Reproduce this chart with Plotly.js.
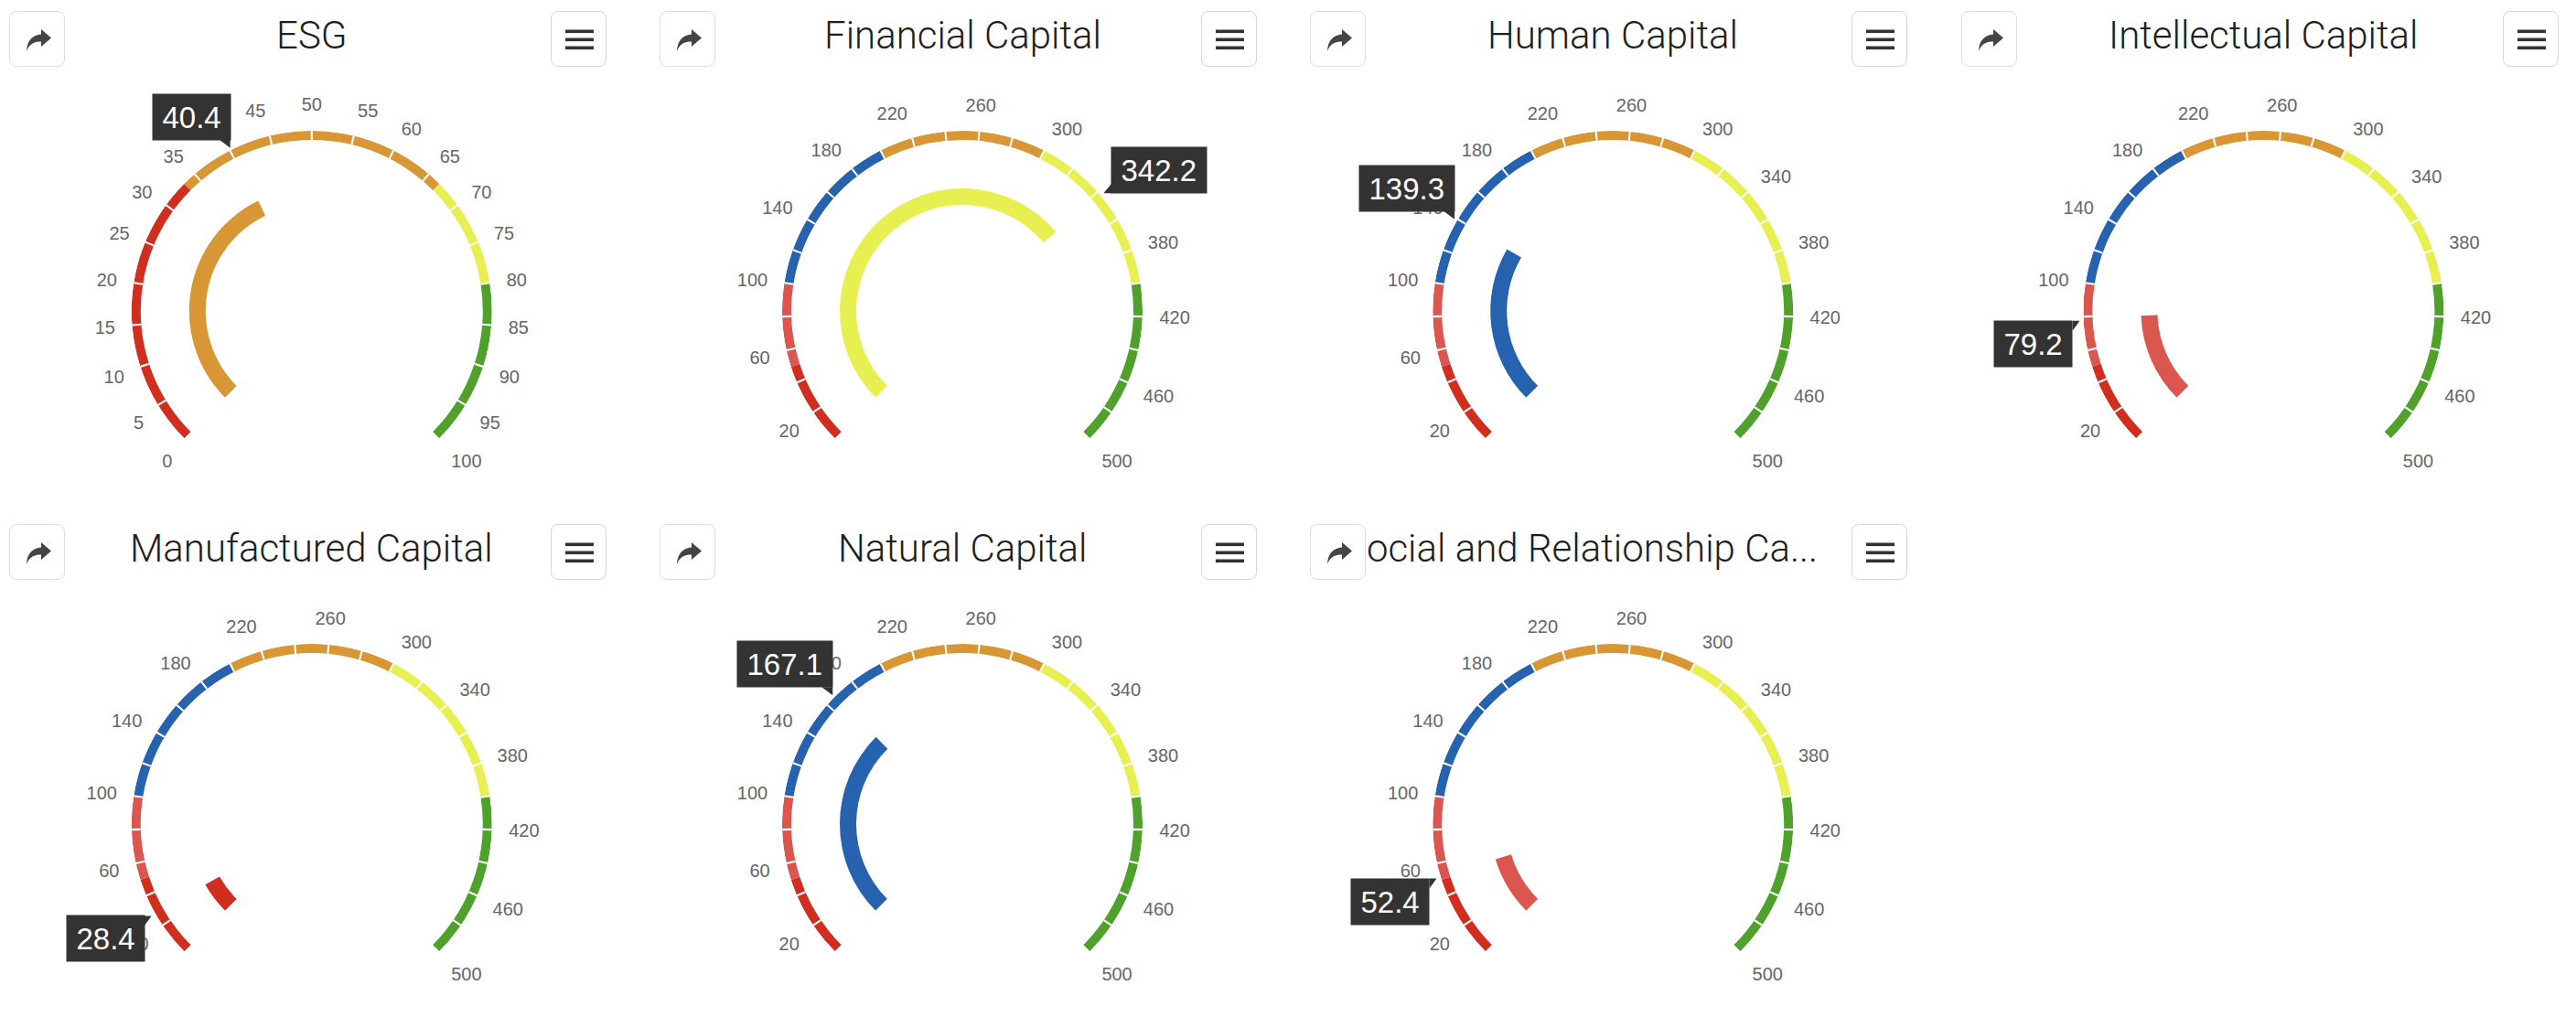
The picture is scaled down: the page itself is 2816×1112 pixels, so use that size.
<!DOCTYPE html>
<html>
<head>
<meta charset="utf-8">
<script src="https://cdn.plot.ly/plotly-3.0.1.min.js"></script>
<style>
html,body{margin:0;padding:0;background:#ffffff;}
#wrap{position:relative;width:2816px;height:1112px;overflow:hidden;}
#chart{position:absolute;left:0;top:0;width:2816px;height:1112px;}
.btn{position:absolute;width:61px;height:61px;border:1.5px solid #dedede;border-radius:8px;background:#ffffff;box-sizing:border-box;}
.btn svg{position:absolute;left:0;top:0;}
</style>
</head>
<body>
<div id="wrap"><div id="chart"></div></div>
<script>
// ---------------- data ----------------
const titles = ["ESG", "Financial Capital", "Human Capital", "Intellectual Capital",
                "Manufactured Capital", "Natural Capital", "Social and Relationship Ca..."];
const values = [40.4, 342.2, 139.3, 79.2, 28.4, 167.1, 52.4];

const esgMin = 0, esgMax = 100;
const esgTickLabels = [0,5,10,15,20,25,30,35,40,45,50,55,60,65,70,75,80,85,90,95,100];
const esgSeparators = [5,10,15,20,25,30,35,40,45,50,55,60,65,70,75,80,85,90,95];
const esgBandEdges = [0, 33.3, 66.7, 80, 100];
const esgBandColors = ["#d22e20", "#d99634", "#e8f051", "#50a12c"];

const capMin = 0, capMax = 500;
const capTickLabels = [20,60,100,140,180,220,260,300,340,380,420,460,500];
const capSeparators = [20,40,60,80,100,120,140,160,180,200,220,240,260,280,300,320,340,360,380,400,420,440,460,480];
const capBandEdges = [0, 50, 100, 200, 300, 400, 500];
const capBandColors = ["#d22e20", "#dc5650", "#2662ae", "#d99634", "#e8f051", "#50a12c"];

// ---------------- layout constants ----------------
const W = 2816, H = 1112;
const R = 197, bandThick = 10, barInner = 116, barOuter = 134;
const cx0 = 340.8, cy0 = 340, colStep = 711.2, rowStep = 561;
const SWEEP = 270;
const sepDeg = 0.62;

function px2fx(x){ return x / W; }
function px2fy(y){ return (H - y) / H; }

const traces = [];
const layout = {
  width: W, height: H, autosize: false,
  margin: {l:0, r:0, t:0, b:0},
  paper_bgcolor: "#ffffff",
  showlegend: false,
  hovermode: false,
  dragmode: false,
  annotations: [],
  shapes: []
};

titles.forEach((title, i) => {
  const isEsg = i === 0;
  const mn = isEsg ? esgMin : capMin;
  const mx = isEsg ? esgMax : capMax;
  const ticks = isEsg ? esgTickLabels : capTickLabels;
  const seps = isEsg ? esgSeparators : capSeparators;
  const edges = isEsg ? esgBandEdges : capBandEdges;
  const colors = isEsg ? esgBandColors : capBandColors;
  const val = values[i];
  // value -> angular-axis theta (the clockwise axis rotated to 225° spans theta -360..-90)
  const deg = v => (v - mn) / (mx - mn) * SWEEP - 360;
  const span = (a, b) => (b - a) / (mx - mn) * SWEEP;

  const col = i % 4, row = Math.floor(i / 4);
  const cx = cx0 + col * colStep, cy = cy0 + row * rowStep;
  const sp = i === 0 ? "polar" : "polar" + (i + 1);

  // bands
  const bt = [], bw = [], bc = [];
  for (let k = 0; k < colors.length; k++) {
    bt.push((deg(edges[k]) + deg(edges[k+1])) / 2);
    bw.push(span(edges[k], edges[k+1]));
    bc.push(colors[k]);
  }
  traces.push({type:"barpolar", subplot: sp, theta: bt, width: bw,
    r: bt.map(() => bandThick / R), base: bt.map(() => (R - bandThick) / R),
    marker: {color: bc, line: {width: 0}}, hoverinfo: "skip"});
  // tick separators (white gaps)
  traces.push({type:"barpolar", subplot: sp, theta: seps.map(deg), width: seps.map(() => sepDeg),
    r: seps.map(() => bandThick / R), base: seps.map(() => (R - bandThick) / R),
    marker: {color: "#ffffff", line: {width: 0}}, hoverinfo: "skip"});
  // value bar
  let vcol = colors[colors.length - 1];
  for (let k = 0; k < colors.length; k++) { if (val >= edges[k] && val < edges[k+1]) { vcol = colors[k]; break; } }
  traces.push({type:"barpolar", subplot: sp, theta: [(deg(mn) + deg(val)) / 2], width: [span(mn, val)],
    r: [(barOuter - barInner) / R], base: [barInner / R],
    marker: {color: [vcol], line: {width: 0}}, hoverinfo: "skip"});

  layout[sp] = {
    domain: {x: [px2fx(cx - R), px2fx(cx + R)], y: [px2fy(cy + R * Math.SQRT1_2), px2fy(cy - R)]},
    sector: [-45, 225],
    bgcolor: "rgba(0,0,0,0)",
    barmode: "overlay",
    radialaxis: {visible: false, range: [0, 1]},
    angularaxis: {
      type: "linear", rotation: 225, direction: "clockwise",
      tickmode: "array", tickvals: ticks.map(deg), ticktext: ticks.map(String),
      ticks: "outside", ticklen: 14, tickcolor: "rgba(0,0,0,0)",
      showline: false, showgrid: false,
      tickfont: {size: 20, color: "#666666", family: "Liberation Sans, Arial, sans-serif"}
    }
  };

  // title
  const trunc = title.endsWith("...");
  layout.annotations.push({
    xref: "paper", yref: "paper",
    x: px2fx(trunc ? cx + 226 : cx), y: px2fy(38 + row * rowStep),
    xanchor: trunc ? "right" : "center", yanchor: "middle",
    text: title, showarrow: false,
    font: {family: "Roboto", size: 42, color: "#1e1e1e", weight: 300}
  });

  // tooltip
  const a = (-135 + span(mn, val)) * Math.PI / 180;
  const P = {x: cx + R * Math.sin(a), y: cy - R * Math.cos(a)};
  const txt = String(val);
  const fs = 33;
  let tw = 0; for (const ch of txt) tw += (ch === "." ? 0.278 : 0.556) * fs;
  const bwid = tw + 21, bh = 50;
  let bx0, by0, tri;
  if (P.x >= cx) {           // right side: box to the right, pointer bottom-left
    const tip = {x: P.x + 4, y: P.y - 1.5};
    bx0 = tip.x + 9; by0 = tip.y - bh;
    tri = [[bx0, tip.y - 11], [bx0, tip.y], [tip.x, tip.y]];
  } else if (P.y < cy) {     // upper-left: box above-left, pointer bottom-right
    const tip = {x: P.x - 3, y: P.y - 1};
    bx0 = tip.x - bwid; by0 = tip.y - 9 - bh;
    tri = [[tip.x - 12, tip.y - 9], [tip.x, tip.y - 9], [tip.x, tip.y]];
  } else {                   // lower-left: box below-left, pointer top-right
    const tip = {x: P.x - 4, y: P.y + 3};
    bx0 = tip.x - 8 - bwid; by0 = tip.y;
    tri = [[tip.x - 8, tip.y + 11], [tip.x - 8, tip.y], [tip.x, tip.y]];
  }
  layout.annotations.push({
    xref: "paper", yref: "paper",
    x: px2fx(bx0 + bwid / 2), y: px2fy(by0 + bh / 2),
    xanchor: "center", yanchor: "middle",
    width: bwid, height: bh, borderpad: 0,
    bgcolor: "#333333", text: txt, showarrow: false, align: "center", valign: "middle",
    font: {family: "Liberation Sans, Arial, sans-serif", size: fs, color: "#ffffff"}
  });
  layout.shapes.push({
    type: "path", xref: "paper", yref: "paper",
    path: "M" + tri.map(p => px2fx(p[0]) + "," + px2fy(p[1])).join(" L") + " Z",
    fillcolor: "#333333", line: {width: 0}
  });
});

Plotly.newPlot("chart", traces, layout, {staticPlot: true, displayModeBar: false});

// toolbar buttons (share + menu) for each panel
const wrap = document.getElementById("wrap");
titles.forEach((t, i) => {
  const col = i % 4, row = Math.floor(i / 4);
  const ox = 10 + col * colStep, oy = 12 + row * rowStep;
  const s = document.createElement("div");
  s.className = "btn";
  s.style.left = ox + "px"; s.style.top = oy + "px";
  s.innerHTML = '<svg width="61" height="61" viewBox="0 0 61 61"><path d="M34 19 L45 28.5 L34 38 L34 32.5 C26 32.5 21 35 18 43 C18.5 31 25 25 34 24.5 Z" fill="#444444"/></svg>';
  wrap.appendChild(s);
  const m = document.createElement("div");
  m.className = "btn";
  m.style.left = (ox + 592) + "px"; m.style.top = oy + "px";
  m.style.borderColor = "#d6d6d6";
  m.innerHTML = '<svg width="61" height="61" viewBox="0 0 61 61"><rect x="15" y="19.5" width="31" height="3.6" fill="#333"/><rect x="15" y="28.5" width="31" height="3.6" fill="#333"/><rect x="15" y="37.5" width="31" height="3.6" fill="#333"/></svg>';
  wrap.appendChild(m);
});
</script>
</body>
</html>
